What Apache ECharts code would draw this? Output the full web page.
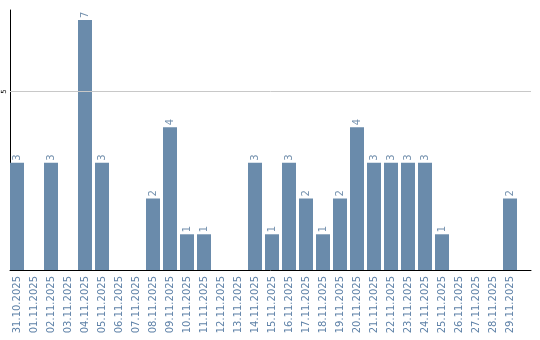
<!DOCTYPE html>
<html><head><meta charset="utf-8">
<script src="https://cdn.jsdelivr.net/npm/echarts@6/dist/echarts.min.js"></script>
<style>html,body{margin:0;padding:0;background:#fff}#c{width:540px;height:340px}</style>
</head><body><div id="c"></div>
<script>
const categories = ["31.10.2025","01.11.2025","02.11.2025","03.11.2025","04.11.2025","05.11.2025","06.11.2025","07.11.2025","08.11.2025","09.11.2025","10.11.2025","11.11.2025","12.11.2025","13.11.2025","14.11.2025","15.11.2025","16.11.2025","17.11.2025","18.11.2025","19.11.2025","20.11.2025","21.11.2025","22.11.2025","23.11.2025","24.11.2025","25.11.2025","26.11.2025","27.11.2025","28.11.2025","29.11.2025"];
const values = [3,0,3,0,7,3,0,0,2,4,1,1,0,0,3,1,3,2,1,2,4,3,3,3,3,1,0,0,0,2];
const yTicks = [5];

const chart = echarts.init(document.getElementById('c'), null, {renderer:'canvas'});
const blue = '#6a8bab';
chart.setOption({
  animation:false,
  grid:[
    {left:8.5, width:510, top:10, height:260, containLabel:false},
    {left:10, width:521, top:10, height:260, containLabel:false}
  ],
  xAxis:[
    {type:'category', gridIndex:0, data:categories, boundaryGap:true,
     axisLine:{show:false}, axisTick:{show:false},
     axisLabel:{rotate:90, interval:0, margin:6, color:'#5f82a8', fontFamily:'DejaVu Sans', fontSize:10}},
    {type:'category', gridIndex:1, data:categories, boundaryGap:true,
     axisLine:{show:true, lineStyle:{color:'#000', width:1}}, axisTick:{show:false}, axisLabel:{show:false}}
  ],
  yAxis:[
    {type:'value', gridIndex:0, min:0, max:7.28, show:false},
    {type:'value', gridIndex:1, min:0, max:7.28, interval:5,
     axisLine:{show:true, lineStyle:{color:'#000', width:1}}, axisTick:{show:false},
     splitLine:{show:false},
     axisLabel:{rotate:90, margin:2, color:'#000', fontFamily:'DejaVu Sans', fontSize:7,
       formatter:function(v){return yTicks.indexOf(v)>=0 ? String(v) : '';}}}
  ],
  series:[
    {type:'bar', xAxisIndex:1, yAxisIndex:1, data:[], z:1,
     markLine:{silent:true, symbol:'none', label:{show:false},
       lineStyle:{color:'#c8c8c8', width:1, type:'solid'},
       data:yTicks.map(function(t){return {yAxis:t};})}},
    {type:'bar', xAxisIndex:0, yAxisIndex:0, data:values, barWidth:14, z:3,
    itemStyle:{color:blue},
    label:{show:true, position:'top', rotate:90, align:'left', verticalAlign:'middle', distance:2,
      color:'#7390ad', fontFamily:'DejaVu Sans', fontSize:10,
      formatter:function(p){return p.value ? String(p.value) : '';}}
  }]
});
</script></body></html>
